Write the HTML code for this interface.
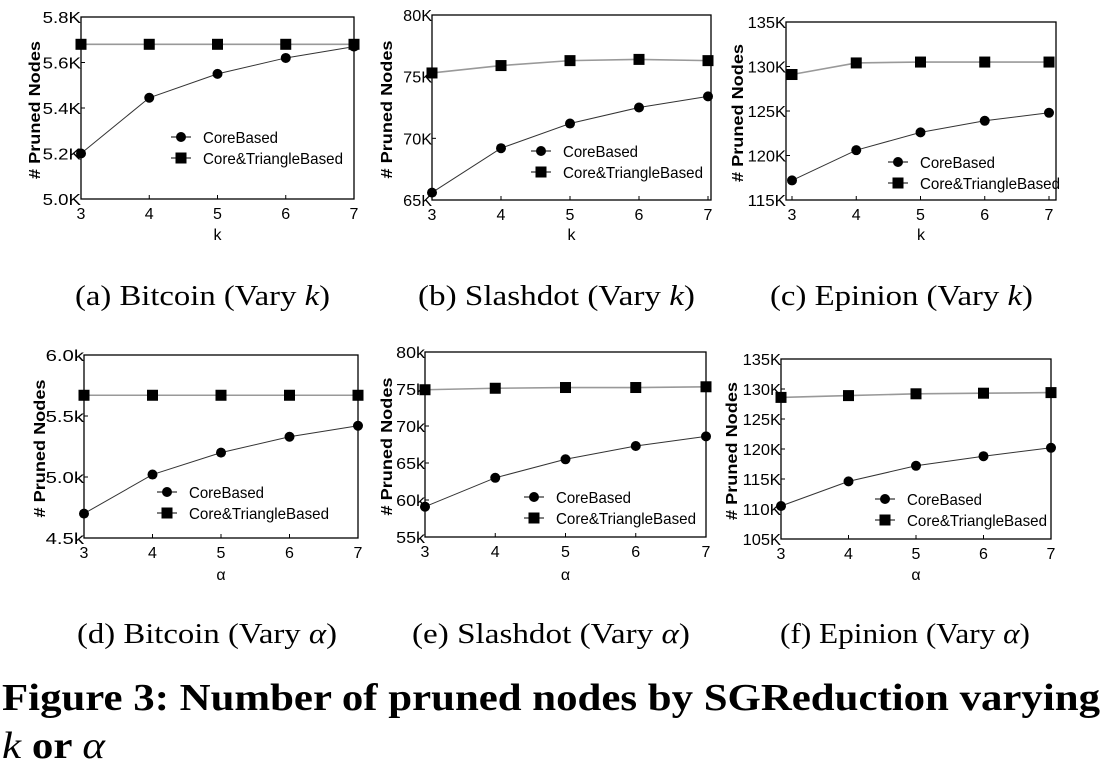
<!DOCTYPE html>
<html><head><meta charset="utf-8"><style>
body{margin:0;background:#fff;width:1117px;height:769px;overflow:hidden}
svg{display:block}
</style></head><body>
<svg id="s" width="1117" height="769" xmlns="http://www.w3.org/2000/svg">
<g font-family="Liberation Serif, serif" font-size="29" fill="#000">
<text x="75" y="305" textLength="255" lengthAdjust="spacingAndGlyphs">(a)  Bitcoin (Vary <tspan font-style="italic">k</tspan>)</text>
<text x="418" y="305" textLength="277" lengthAdjust="spacingAndGlyphs">(b)  Slashdot (Vary <tspan font-style="italic">k</tspan>)</text>
<text x="770" y="305" textLength="263" lengthAdjust="spacingAndGlyphs">(c)  Epinion (Vary <tspan font-style="italic">k</tspan>)</text>
<text x="77" y="643" textLength="260" lengthAdjust="spacingAndGlyphs">(d)  Bitcoin (Vary <tspan font-style="italic">α</tspan>)</text>
<text x="412" y="643" textLength="278" lengthAdjust="spacingAndGlyphs">(e)  Slashdot (Vary <tspan font-style="italic">α</tspan>)</text>
<text x="780" y="643" textLength="250" lengthAdjust="spacingAndGlyphs">(f)  Epinion (Vary <tspan font-style="italic">α</tspan>)</text>
</g>
<g font-family="Liberation Serif, serif" font-size="38" font-weight="bold" fill="#000">
<text x="2" y="710" textLength="1098" lengthAdjust="spacingAndGlyphs">Figure 3: Number of pruned nodes by SGReduction varying</text>
<text x="2" y="758" textLength="103" lengthAdjust="spacingAndGlyphs"><tspan font-style="italic" font-weight="normal">k</tspan> or <tspan font-style="italic" font-weight="normal">α</tspan></text>
</g>
</svg>
<script>
var s=document.getElementById('s'),NS='http://www.w3.org/2000/svg';
function el(t,a,txt){var e=document.createElementNS(NS,t);for(var k in a)e.setAttribute(k,a[k]);if(txt!=null)e.textContent=txt;s.appendChild(e);return e;}
var F='Liberation Sans, sans-serif';
var charts=[
{L:81,R:354,T:17,B:199,x0:81,x1:354,lo:5.0,hi:5.8,st:0.2,fmt:function(v){return v.toFixed(1)+'K'},core:[5.2,5.445,5.55,5.62,5.67],tri:[5.68,5.68,5.68,5.68,5.68],xl:'k',xlY:240,yl:35,lg:[181,137]},
{L:432,R:711,T:15,B:200,x0:432,x1:708,lo:65,hi:80,st:5,fmt:function(v){return v+'K'},core:[65.6,69.2,71.2,72.5,73.4],tri:[75.3,75.9,76.3,76.4,76.3],xl:'k',xlY:240,yl:387,lg:[541,151]},
{L:786,R:1056,T:22,B:200,x0:792,x1:1049,lo:115,hi:135,st:5,fmt:function(v){return v+'K'},core:[117.2,120.6,122.6,123.9,124.8],tri:[129.1,130.4,130.5,130.5,130.5],xl:'k',xlY:240,yl:738,lg:[898,162]},
{L:84,R:358,T:355,B:538,x0:84,x1:358,lo:4.5,hi:6.0,st:0.5,fmt:function(v){return v.toFixed(1)+'k'},core:[4.7,5.02,5.2,5.33,5.42],tri:[5.67,5.67,5.67,5.67,5.67],xl:'α',xlY:580,yl:40,lg:[167,492]},
{L:425,R:706,T:352,B:537,x0:425,x1:706,lo:55,hi:80,st:5,fmt:function(v){return v+'k'},core:[59.1,63,65.5,67.3,68.6],tri:[74.9,75.1,75.2,75.2,75.3],xl:'α',xlY:580,yl:387,lg:[534,497]},
{L:781,R:1051,T:359,B:539,x0:781,x1:1051,lo:105,hi:135,st:5,fmt:function(v){return v+'K'},core:[110.5,114.6,117.2,118.8,120.2],tri:[128.6,128.9,129.2,129.3,129.4],xl:'α',xlY:580,yl:732,lg:[885,499]}
];
charts.forEach(function(c){
 function Y(v){return c.B-(v-c.lo)/(c.hi-c.lo)*(c.B-c.T);}
 function X(i){return c.x0+i*(c.x1-c.x0)/4;}
 el('rect',{x:c.L,y:c.T,width:c.R-c.L,height:c.B-c.T,fill:'none',stroke:'#000','stroke-width':1.3});
 for(var v=c.lo;v<=c.hi+1e-9;v+=c.st){var y=Y(v);
  el('line',{x1:c.L,x2:c.L+4,y1:y,y2:y,stroke:'#000'});
  var lab=c.fmt(Math.round(v*10)/10);
  el('text',{x:c.L,y:y+6,'text-anchor':'end','font-family':F,'font-size':16,textLength:lab.length*9.6,lengthAdjust:'spacingAndGlyphs'},lab);}
 for(var i=0;i<5;i++){var x=X(i);
  el('line',{x1:x,x2:x,y1:c.B,y2:c.B-4,stroke:'#000'});
  el('text',{x:x,y:c.B+20,'text-anchor':'middle','font-family':F,'font-size':16},String(i+3));}
 el('text',{x:(c.L+c.R)/2,y:c.xlY,'text-anchor':'middle','font-family':F,'font-size':16},c.xl);
 var my=(c.T+c.B)/2+2;
 el('text',{x:c.yl+5,y:my,transform:'rotate(-90 '+(c.yl+5)+' '+my+')','text-anchor':'middle','font-family':F,'font-size':16,'font-weight':'bold',textLength:138,lengthAdjust:'spacingAndGlyphs'},'# Pruned Nodes');
 var p1=c.tri.map(function(v,i){return X(i)+','+Y(v)}).join(' ');
 el('polyline',{points:p1,fill:'none',stroke:'#999','stroke-width':1.6});
 c.tri.forEach(function(v,i){el('rect',{x:X(i)-5.5,y:Y(v)-5.5,width:11,height:11,fill:'#000'});});
 var p2=c.core.map(function(v,i){return X(i)+','+Y(v)}).join(' ');
 el('polyline',{points:p2,fill:'none',stroke:'#333','stroke-width':1});
 c.core.forEach(function(v,i){el('circle',{cx:X(i),cy:Y(v),r:5,fill:'#000'});});
 var lx=c.lg[0],ly=c.lg[1];
 el('line',{x1:lx-10,x2:lx+10,y1:ly,y2:ly,stroke:'#000'});
 el('circle',{cx:lx,cy:ly,r:5,fill:'#000'});
 el('text',{x:lx+22,y:ly+6,'font-family':F,'font-size':16,textLength:75,lengthAdjust:'spacingAndGlyphs'},'CoreBased');
 ly+=21;
 el('line',{x1:lx-10,x2:lx+10,y1:ly,y2:ly,stroke:'#000'});
 el('rect',{x:lx-5.5,y:ly-5.5,width:11,height:11,fill:'#000'});
 el('text',{x:lx+22,y:ly+6,'font-family':F,'font-size':16,textLength:140,lengthAdjust:'spacingAndGlyphs'},'Core&TriangleBased');
});
</script>
</body></html>
